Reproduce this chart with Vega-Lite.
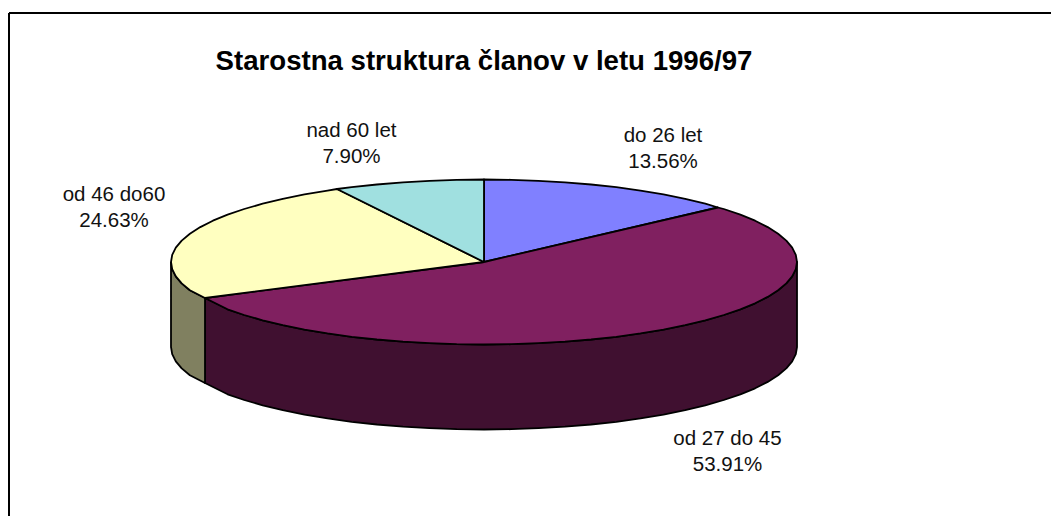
{"$schema":"https://vega.github.io/schema/vega-lite/v6.json","width":1051,"height":516,"padding":0,"autosize":"none","background":"white","config":{"view":{"stroke":null}},
"encoding":{},
"layer":[
{"data":{"values":[{"x":9,"y":13,"x2":1051,"y2":13},{"x":9,"y":13,"x2":9,"y2":516}]},"mark":{"type":"rule","color":"#000","strokeWidth":2},"encoding":{"x":{"field":"x","type":"quantitative","scale":{"domain":[0,1051],"nice":false},"axis":null},"y":{"field":"y","type":"quantitative","scale":{"domain":[0,516],"reverse":true,"nice":false},"axis":null},"x2":{"field":"x2"},"y2":{"field":"y2"}}},
{"data":{"values":[
{"part":"side 27-45","i":1,"x":205,"y":298},{"part":"side 27-45","i":2,"x":227.6,"y":309.3},{"part":"side 27-45","i":3,"x":244.2,"y":315},{"part":"side 27-45","i":4,"x":262.7,"y":320.3},{"part":"side 27-45","i":5,"x":282.8,"y":325.2},{"part":"side 27-45","i":6,"x":304.5,"y":329.6},{"part":"side 27-45","i":7,"x":327.5,"y":333.4},{"part":"side 27-45","i":8,"x":351.7,"y":336.8},{"part":"side 27-45","i":9,"x":376.9,"y":339.5},{"part":"side 27-45","i":10,"x":403,"y":341.7},{"part":"side 27-45","i":11,"x":429.6,"y":343.2},{"part":"side 27-45","i":12,"x":456.7,"y":344.2},{"part":"side 27-45","i":13,"x":484,"y":344.5},{"part":"side 27-45","i":14,"x":511.3,"y":344.2},{"part":"side 27-45","i":15,"x":538.4,"y":343.2},{"part":"side 27-45","i":16,"x":565,"y":341.7},{"part":"side 27-45","i":17,"x":591.1,"y":339.5},{"part":"side 27-45","i":18,"x":616.3,"y":336.8},{"part":"side 27-45","i":19,"x":640.5,"y":333.4},{"part":"side 27-45","i":20,"x":663.5,"y":329.6},{"part":"side 27-45","i":21,"x":685.2,"y":325.2},{"part":"side 27-45","i":22,"x":705.3,"y":320.3},{"part":"side 27-45","i":23,"x":723.8,"y":315},{"part":"side 27-45","i":24,"x":740.4,"y":309.3},{"part":"side 27-45","i":25,"x":755.1,"y":303.3},{"part":"side 27-45","i":26,"x":767.7,"y":296.9},{"part":"side 27-45","i":27,"x":778.1,"y":290.2},{"part":"side 27-45","i":28,"x":786.3,"y":283.4},{"part":"side 27-45","i":29,"x":792.2,"y":276.3},{"part":"side 27-45","i":30,"x":795.8,"y":269.2},{"part":"side 27-45","i":31,"x":797,"y":262},
{"part":"side 27-45","i":32,"x":797,"y":347},{"part":"side 27-45","i":33,"x":795.8,"y":354.2},{"part":"side 27-45","i":34,"x":792.2,"y":361.3},{"part":"side 27-45","i":35,"x":786.3,"y":368.4},{"part":"side 27-45","i":36,"x":778.1,"y":375.2},{"part":"side 27-45","i":37,"x":767.7,"y":381.9},{"part":"side 27-45","i":38,"x":755.1,"y":388.3},{"part":"side 27-45","i":39,"x":740.4,"y":394.3},{"part":"side 27-45","i":40,"x":723.8,"y":400},{"part":"side 27-45","i":41,"x":705.3,"y":405.3},{"part":"side 27-45","i":42,"x":685.2,"y":410.2},{"part":"side 27-45","i":43,"x":663.5,"y":414.6},{"part":"side 27-45","i":44,"x":640.5,"y":418.4},{"part":"side 27-45","i":45,"x":616.3,"y":421.8},{"part":"side 27-45","i":46,"x":591.1,"y":424.5},{"part":"side 27-45","i":47,"x":565,"y":426.7},{"part":"side 27-45","i":48,"x":538.4,"y":428.2},{"part":"side 27-45","i":49,"x":511.3,"y":429.2},{"part":"side 27-45","i":50,"x":484,"y":429.5},{"part":"side 27-45","i":51,"x":456.7,"y":429.2},{"part":"side 27-45","i":52,"x":429.6,"y":428.2},{"part":"side 27-45","i":53,"x":403,"y":426.7},{"part":"side 27-45","i":54,"x":376.9,"y":424.5},{"part":"side 27-45","i":55,"x":351.7,"y":421.8},{"part":"side 27-45","i":56,"x":327.5,"y":418.4},{"part":"side 27-45","i":57,"x":304.5,"y":414.6},{"part":"side 27-45","i":58,"x":282.8,"y":410.2},{"part":"side 27-45","i":59,"x":262.7,"y":405.3},{"part":"side 27-45","i":60,"x":244.2,"y":400},{"part":"side 27-45","i":61,"x":227.6,"y":394.3},{"part":"side 27-45","i":62,"x":205,"y":383},{"part":"side 27-45","i":63,"x":205,"y":298},
{"part":"side 46-60","i":1,"x":171,"y":262},{"part":"side 46-60","i":2,"x":172.2,"y":269.2},{"part":"side 46-60","i":3,"x":175.8,"y":276.3},{"part":"side 46-60","i":4,"x":181.7,"y":283.4},{"part":"side 46-60","i":5,"x":189.9,"y":290.2},{"part":"side 46-60","i":6,"x":205,"y":298},{"part":"side 46-60","i":7,"x":205,"y":383},{"part":"side 46-60","i":8,"x":189.9,"y":375.2},{"part":"side 46-60","i":9,"x":181.7,"y":368.4},{"part":"side 46-60","i":10,"x":175.8,"y":361.3},{"part":"side 46-60","i":11,"x":172.2,"y":354.2},{"part":"side 46-60","i":12,"x":171,"y":347},{"part":"side 46-60","i":13,"x":171,"y":262},
{"part":"do 26 let","i":1,"x":484,"y":262},{"part":"do 26 let","i":2,"x":484,"y":179.5},{"part":"do 26 let","i":3,"x":511.3,"y":179.8},{"part":"do 26 let","i":4,"x":538.4,"y":180.8},{"part":"do 26 let","i":5,"x":565,"y":182.3},{"part":"do 26 let","i":6,"x":591.1,"y":184.5},{"part":"do 26 let","i":7,"x":616.3,"y":187.2},{"part":"do 26 let","i":8,"x":640.5,"y":190.6},{"part":"do 26 let","i":9,"x":663.5,"y":194.4},{"part":"do 26 let","i":10,"x":685.2,"y":198.8},{"part":"do 26 let","i":11,"x":705.3,"y":203.7},{"part":"do 26 let","i":12,"x":718,"y":207.5},{"part":"do 26 let","i":13,"x":484,"y":262},
{"part":"od 27 do 45","i":1,"x":484,"y":262},{"part":"od 27 do 45","i":2,"x":718,"y":207.5},{"part":"od 27 do 45","i":3,"x":723.8,"y":209},{"part":"od 27 do 45","i":4,"x":740.4,"y":214.7},{"part":"od 27 do 45","i":5,"x":755.1,"y":220.7},{"part":"od 27 do 45","i":6,"x":767.7,"y":227.1},{"part":"od 27 do 45","i":7,"x":778.1,"y":233.8},{"part":"od 27 do 45","i":8,"x":786.3,"y":240.6},{"part":"od 27 do 45","i":9,"x":792.2,"y":247.7},{"part":"od 27 do 45","i":10,"x":795.8,"y":254.8},{"part":"od 27 do 45","i":11,"x":797,"y":262},{"part":"od 27 do 45","i":12,"x":795.8,"y":269.2},{"part":"od 27 do 45","i":13,"x":792.2,"y":276.3},{"part":"od 27 do 45","i":14,"x":786.3,"y":283.4},{"part":"od 27 do 45","i":15,"x":778.1,"y":290.2},{"part":"od 27 do 45","i":16,"x":767.7,"y":296.9},{"part":"od 27 do 45","i":17,"x":755.1,"y":303.3},{"part":"od 27 do 45","i":18,"x":740.4,"y":309.3},{"part":"od 27 do 45","i":19,"x":723.8,"y":315},{"part":"od 27 do 45","i":20,"x":705.3,"y":320.3},{"part":"od 27 do 45","i":21,"x":685.2,"y":325.2},{"part":"od 27 do 45","i":22,"x":663.5,"y":329.6},{"part":"od 27 do 45","i":23,"x":640.5,"y":333.4},{"part":"od 27 do 45","i":24,"x":616.3,"y":336.8},{"part":"od 27 do 45","i":25,"x":591.1,"y":339.5},{"part":"od 27 do 45","i":26,"x":565,"y":341.7},{"part":"od 27 do 45","i":27,"x":538.4,"y":343.2},{"part":"od 27 do 45","i":28,"x":511.3,"y":344.2},{"part":"od 27 do 45","i":29,"x":484,"y":344.5},{"part":"od 27 do 45","i":30,"x":456.7,"y":344.2},{"part":"od 27 do 45","i":31,"x":429.6,"y":343.2},{"part":"od 27 do 45","i":32,"x":403,"y":341.7},{"part":"od 27 do 45","i":33,"x":376.9,"y":339.5},{"part":"od 27 do 45","i":34,"x":351.7,"y":336.8},{"part":"od 27 do 45","i":35,"x":327.5,"y":333.4},{"part":"od 27 do 45","i":36,"x":304.5,"y":329.6},{"part":"od 27 do 45","i":37,"x":282.8,"y":325.2},{"part":"od 27 do 45","i":38,"x":262.7,"y":320.3},{"part":"od 27 do 45","i":39,"x":244.2,"y":315},{"part":"od 27 do 45","i":40,"x":227.6,"y":309.3},{"part":"od 27 do 45","i":41,"x":205,"y":298},{"part":"od 27 do 45","i":42,"x":484,"y":262},
{"part":"od 46 do60","i":1,"x":484,"y":262},{"part":"od 46 do60","i":2,"x":205,"y":298},{"part":"od 46 do60","i":3,"x":189.9,"y":290.2},{"part":"od 46 do60","i":4,"x":181.7,"y":283.4},{"part":"od 46 do60","i":5,"x":175.8,"y":276.3},{"part":"od 46 do60","i":6,"x":172.2,"y":269.2},{"part":"od 46 do60","i":7,"x":171,"y":262},{"part":"od 46 do60","i":8,"x":172.2,"y":254.8},{"part":"od 46 do60","i":9,"x":175.8,"y":247.7},{"part":"od 46 do60","i":10,"x":181.7,"y":240.6},{"part":"od 46 do60","i":11,"x":189.9,"y":233.8},{"part":"od 46 do60","i":12,"x":200.3,"y":227.1},{"part":"od 46 do60","i":13,"x":212.9,"y":220.7},{"part":"od 46 do60","i":14,"x":227.6,"y":214.7},{"part":"od 46 do60","i":15,"x":244.2,"y":209},{"part":"od 46 do60","i":16,"x":262.7,"y":203.7},{"part":"od 46 do60","i":17,"x":282.8,"y":198.8},{"part":"od 46 do60","i":18,"x":304.5,"y":194.4},{"part":"od 46 do60","i":19,"x":327.5,"y":190.6},{"part":"od 46 do60","i":20,"x":337,"y":189},{"part":"od 46 do60","i":21,"x":484,"y":262},
{"part":"nad 60 let","i":1,"x":484,"y":262},{"part":"nad 60 let","i":2,"x":337,"y":189},{"part":"nad 60 let","i":3,"x":351.7,"y":187.2},{"part":"nad 60 let","i":4,"x":376.9,"y":184.5},{"part":"nad 60 let","i":5,"x":403,"y":182.3},{"part":"nad 60 let","i":6,"x":429.6,"y":180.8},{"part":"nad 60 let","i":7,"x":456.7,"y":179.8},{"part":"nad 60 let","i":8,"x":484,"y":179.5},{"part":"nad 60 let","i":9,"x":484,"y":262}
]},"mark":{"type":"line","filled":true,"stroke":"#000","strokeWidth":1.8,"strokeJoin":"round"},"encoding":{"x":{"field":"x","type":"quantitative"},"y":{"field":"y","type":"quantitative"},"order":{"field":"i","type":"quantitative"},"fill":{"field":"part","type":"nominal","legend":null,"scale":{"domain":["do 26 let","od 27 do 45","od 46 do60","nad 60 let","side 27-45","side 46-60"],"range":["#8080FF","#802060","#FFFFC0","#A0E0E0","#401030","#808060"]}}}},
{"data":{"values":[{"t":"nad 60 let","x":351.5,"y":137},{"t":"7.90%","x":351.5,"y":163},{"t":"do 26 let","x":663,"y":142},{"t":"13.56%","x":663,"y":168},{"t":"od 46 do60","x":114,"y":201},{"t":"24.63%","x":114,"y":227},{"t":"od 27 do 45","x":727.5,"y":445},{"t":"53.91%","x":727.5,"y":471}]},"mark":{"type":"text","font":"Liberation Sans","fontSize":20.5,"color":"#111","align":"center","baseline":"alphabetic"},"encoding":{"x":{"field":"x","type":"quantitative"},"y":{"field":"y","type":"quantitative"},"text":{"field":"t","type":"nominal"}}},
{"data":{"values":[{"t":"Starostna struktura članov v letu 1996/97","x":484,"y":70}]},"mark":{"type":"text","font":"Liberation Sans","fontSize":27.6,"fontWeight":"bold","color":"#000","align":"center","baseline":"alphabetic"},"encoding":{"x":{"field":"x","type":"quantitative"},"y":{"field":"y","type":"quantitative"},"text":{"field":"t","type":"nominal"}}}
]}
